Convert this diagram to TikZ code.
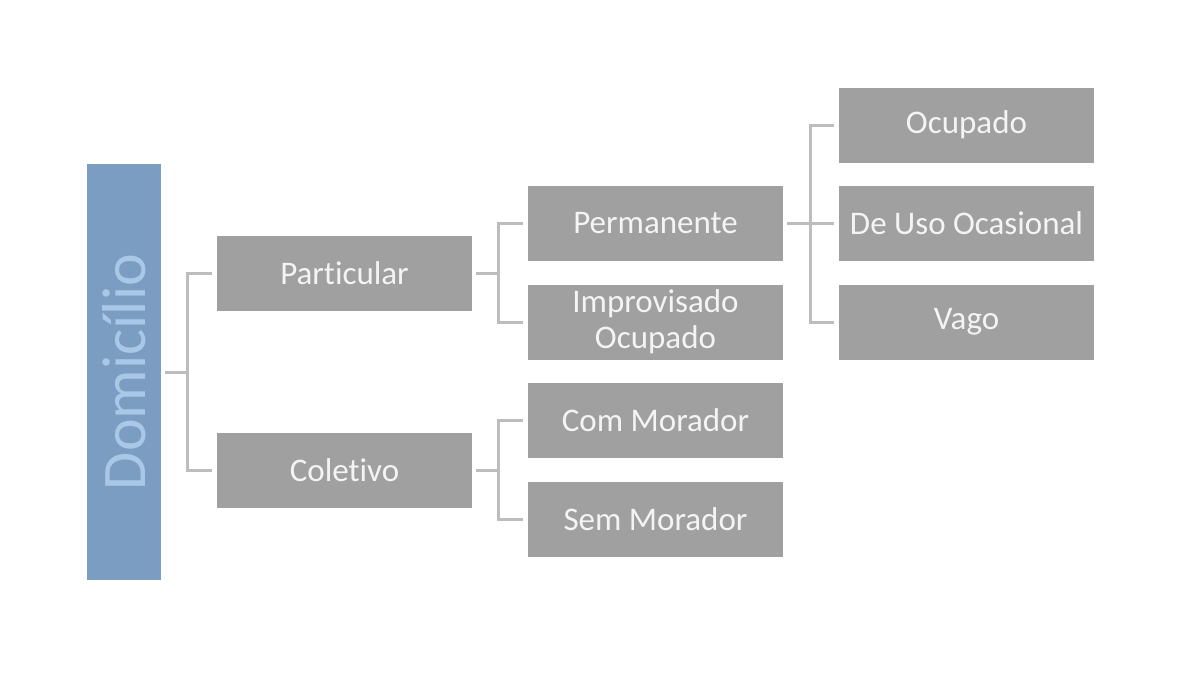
\documentclass[tikz,border=0pt]{standalone}
\usepackage{fontspec}
\setmainfont[Ligatures=NoCommon]{Carlito}
\usetikzlibrary{positioning}
\definecolor{boxgray}{HTML}{A0A0A0}
\definecolor{linegray}{HTML}{BDBDBD}
\definecolor{rootblue}{HTML}{7B9DC1}
\definecolor{rootText}{HTML}{A9C7E7}
\definecolor{boxText}{HTML}{F4F4F4}
\tikzset{
  catbox/.style={fill=boxgray, draw=none, minimum width=255, minimum height=75, inner sep=0pt, align=center, text=boxText, font=\fontsize{33}{36}\selectfont},
  link/.style={draw=linegray, line width=3pt, shorten <=4pt, shorten >=5pt}
}
\begin{document}
\begin{tikzpicture}[x=1pt,y=1pt,yscale=-1,xscale=1]
\useasboundingbox (0,0) rectangle (1179,696);

%Root box
\node (dom) [fill=rootblue, minimum width=74, minimum height=416, inner sep=0pt] at (124,372) {};
\node [rotate=90, text=rootText, font=\fontsize{62}{64}\selectfont] at (dom.center) {Domicílio};

%Second level
\node (part) [catbox] at (344.5,273) {Particular};
\node (colet) [catbox] at (344.5,470.5) {Coletivo};

%Third level
\node (perm) [catbox] at (655.5,223.5) {Permanente};
\node (impr) [catbox] at (655.5,322) {Improvisado\\Ocupado};
\node (com) [catbox] at (655.5,420.5) {Com Morador};
\node (sem) [catbox] at (655.5,519.5) {Sem Morador};

%Fourth level
\node (ocup) [catbox] at (966.5,125) {Ocupado};
\node (deuso) [catbox] at (966.5,223.5) {De Uso Ocasional};
\node (vago) [catbox] at (966.5,322) {Vago};

%Connectors
\draw [link] (dom.east) -- ++(26,0) |- (part.west);
\draw [link] (dom.east) -- ++(26,0) |- (colet.west);
\draw [link] (part.east) -- ++(26,0) |- (perm.west);
\draw [link] (part.east) -- ++(26,0) |- (impr.west);
\draw [link] (colet.east) -- ++(26,0) |- (com.west);
\draw [link] (colet.east) -- ++(26,0) |- (sem.west);
\draw [link] (perm.east) -- ++(27,0) |- (ocup.west);
\draw [link] (perm.east) -- (deuso.west);
\draw [link] (perm.east) -- ++(27,0) |- (vago.west);

\end{tikzpicture}
\end{document}
